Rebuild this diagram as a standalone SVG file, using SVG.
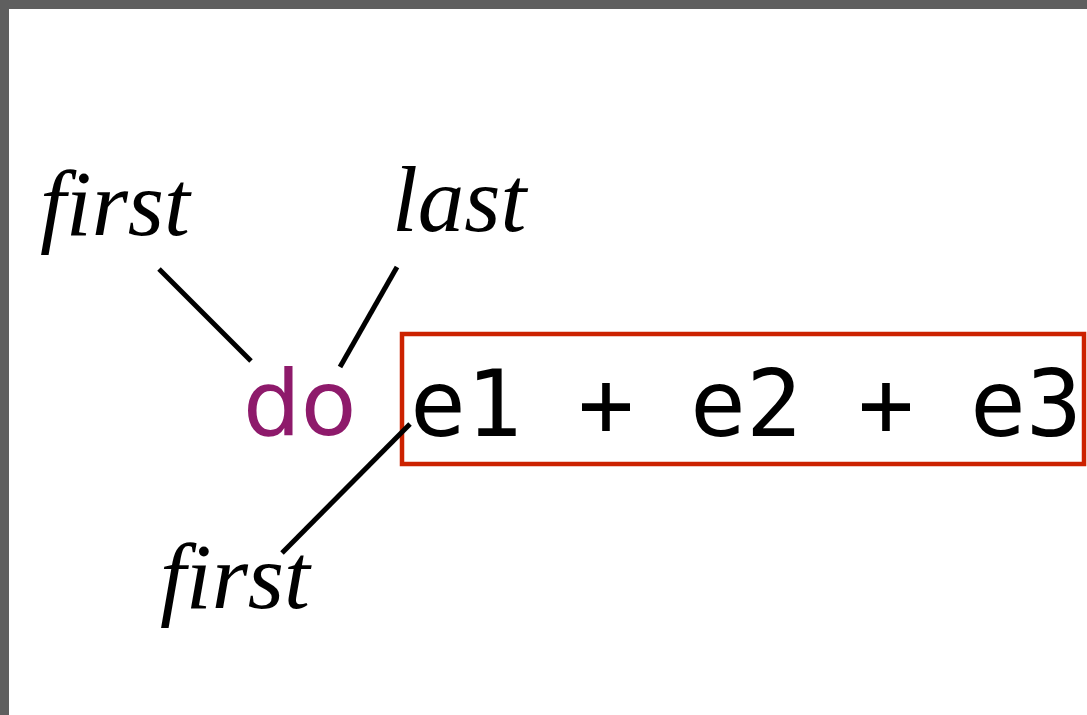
<svg xmlns="http://www.w3.org/2000/svg" width="1087" height="715" viewBox="0 0 1087 715">
<style>
.lbl{font-family:"Liberation Serif","Times New Roman",serif;font-style:italic;font-size:93px;fill:#000}
.kw{font-family:"DejaVu Sans",Verdana,sans-serif;font-size:91px;fill:#8e1a6b}
.code{font-family:"DejaVu Sans Mono","Liberation Mono",monospace;font-size:93px;fill:#000}
.conn line{stroke:#000;stroke-width:5;fill:none}
</style>
<rect x="0" y="0" width="1087" height="715" fill="#fff"/>
<rect x="0" y="0" width="1087" height="9" fill="#5f5f5f"/>
<rect x="0" y="0" width="9" height="715" fill="#5f5f5f"/>
<g id="first-top"><text class="lbl" x="40" y="235">first</text></g>
<g id="last"><text class="lbl" x="392" y="231">last</text></g>
<g id="do"><text class="kw" x="243" y="435">do</text></g>
<g id="expr">
<rect x="402" y="334" width="682" height="130" fill="none" stroke="#cc2200" stroke-width="4.5"/>
<text class="code" x="410" y="436" xml:space="preserve">e1 + e2 + e3</text>
</g>
<g id="first-bottom"><text class="lbl" x="160" y="608">first</text></g>
<g class="conn">
<line x1="159" y1="269" x2="251" y2="361"/>
<line x1="397" y1="267" x2="340" y2="367"/>
<line x1="410" y1="424" x2="282" y2="553"/>
</g>
</svg>
